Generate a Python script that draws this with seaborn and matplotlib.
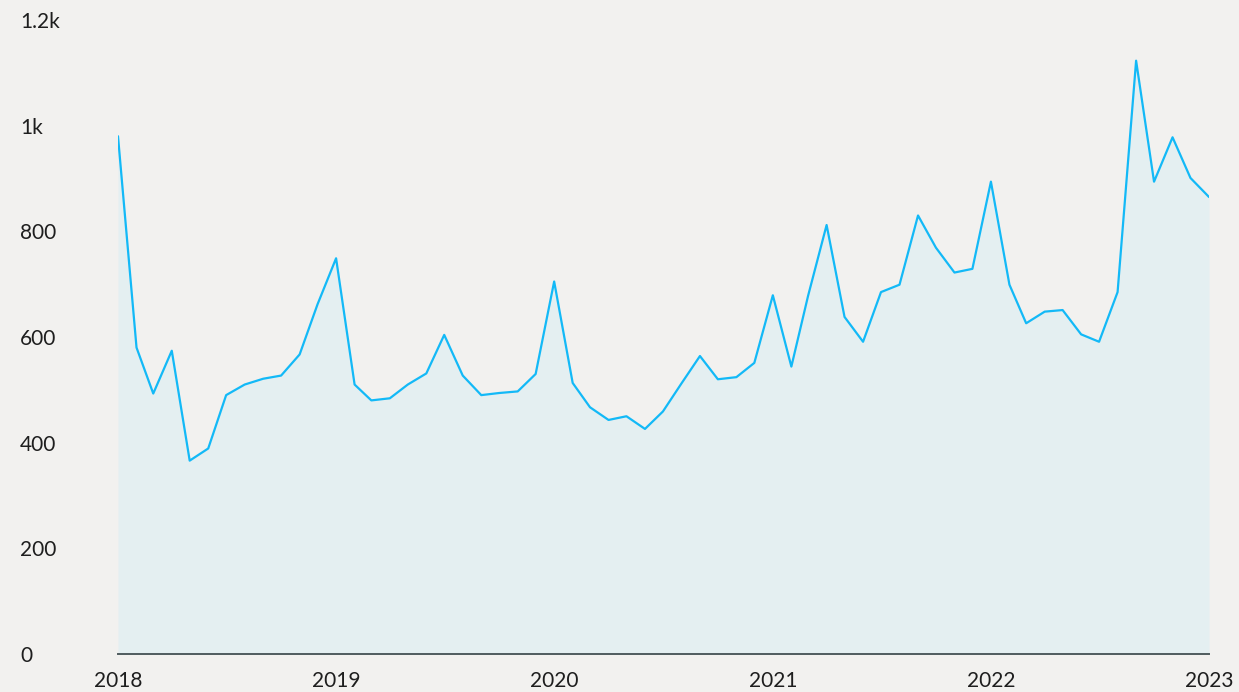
import pandas as pd
import numpy as np
import matplotlib.pyplot as plt
import matplotlib.dates as mdates
import seaborn as sns

# ── DATA (monthly, Jan 2018 - Jan 2023) ───────────────────────────────────────
months = pd.date_range(start='2018-01-01', periods=61, freq='MS')
values = [
    980, 580, 493, 574, 366, 389, 490, 510, 521, 527, 567, 662,   # 2018
    749, 510, 480, 484, 510, 531, 604, 527, 490, 494, 497, 530,   # 2019
    705, 513, 467, 443, 450, 426, 459, 512, 564, 520, 524, 551,   # 2020
    679, 544, 678, 812, 638, 591, 685, 699, 830, 769, 722, 729,   # 2021
    894, 699, 626, 648, 651, 605, 591, 685, 1123, 894, 978, 901,  # 2022
    865,                                                          # 2023
]
year_ticks = ['2018', '2019', '2020', '2021', '2022', '2023']
y_ticks = [0, 200, 400, 600, 800, 1000, 1200]
y_labels = ['0', '200', '400', '600', '800', '1k', '1.2k']

df = pd.DataFrame({'month': months, 'value': values})

# ── STYLE ─────────────────────────────────────────────────────────────────────
bg = '#f2f1ef'
line_col = '#13b9f7'
fill_col = '#e4eff1'
axis_col = '#4f5b5e'

sns.set_style('white')
plt.rcParams['font.family'] = ['Lato', 'DejaVu Sans']

fig = plt.figure(figsize=(12.39, 6.92), dpi=100, facecolor=bg)
ax = fig.add_axes([118 / 1239, 38 / 692, 1091 / 1239, 634 / 692])
ax.set_facecolor(bg)

ax.fill_between(df['month'], df['value'], 0, color=fill_col, linewidth=0, zorder=1)
sns.lineplot(data=df, x='month', y='value', ax=ax, color=line_col, linewidth=1.6, zorder=2)

ax.set_xlim(df['month'].iloc[0], df['month'].iloc[-1])
ax.set_ylim(0, 1200)

ax.set_xticks([pd.Timestamp(y + '-01-01') for y in year_ticks])
ax.set_xticklabels(year_ticks)
ax.set_yticks(y_ticks)
ax.set_yticklabels(y_labels, ha='left')

ax.tick_params(axis='x', length=0, pad=12, labelsize=15, colors='#1e1e1e')
ax.tick_params(axis='y', length=0, pad=70.5, labelsize=15, colors='#1e1e1e')

for s in ['top', 'right', 'left']:
    ax.spines[s].set_visible(False)
ax.spines['bottom'].set_color(axis_col)
ax.spines['bottom'].set_linewidth(1.4)
ax.spines['bottom'].set_zorder(3)

ax.set_xlabel('')
ax.set_ylabel('')
ax.grid(False)

fig.savefig('out.png', dpi=100, facecolor=bg)
